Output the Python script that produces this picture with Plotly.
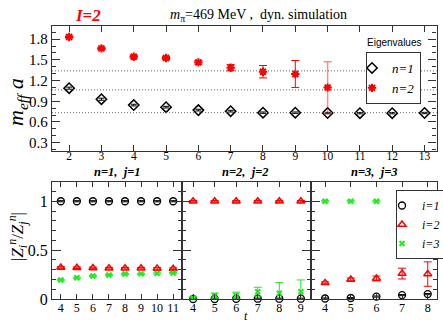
import plotly.graph_objects as go

# effective masses (top panel)
t_eig = [2, 3, 4, 5, 6, 7, 8, 9, 10, 11, 12, 13]
m_n1 = [1.09, 0.93, 0.845, 0.815, 0.772, 0.757, 0.735, 0.735, 0.73, 0.728, 0.728, 0.73]
m_n1_err = [0.015, 0.015, 0.012, 0.012, 0.012, 0.012, 0.01, 0.01, 0.01, 0.01, 0.01, 0.01]
t_n2 = [2, 3, 4, 5, 6, 7, 8, 9, 10]
m_n2 = [1.83, 1.666, 1.545, 1.526, 1.464, 1.386, 1.328, 1.295, 1.098]
m_n2_err = [0.015, 0.015, 0.02, 0.02, 0.025, 0.045, 0.09, 0.195, 0.375]
levels = [1.34, 1.065, 0.735]

# overlap ratios |Z_i^n / Z_j^n| (bottom panels)
p1_t = [4, 5, 6, 7, 8, 9, 10, 11]
p1_i1 = [1, 1, 1, 1, 1, 1, 1, 1]
p1_i2 = [0.323, 0.32, 0.318, 0.315, 0.315, 0.315, 0.313, 0.31]
p1_i3 = [0.194, 0.217, 0.235, 0.245, 0.255, 0.257, 0.262, 0.265]

p2_t = [4, 5, 6, 7, 8, 9]
p2_i1 = [0.0, 0.0, 0.002, 0.003, 0.003, 0.003]
p2_i2 = [1, 1, 1, 1, 1, 1]
p2_i3 = [0.01, 0.035, 0.035, 0.075, 0.058, 0.075]
p2_i3_err = [0.01, 0.025, 0.035, 0.045, 0.11, 0.12]

p3_t = [4, 5, 6, 7, 8]
p3_i1 = [0.005, 0.01, 0.025, 0.04, 0.05]
p3_i2 = [0.165, 0.2, 0.21, 0.26, 0.255]
p3_i2_err = [0.01, 0.015, 0.025, 0.055, 0.125]
p3_i3_t = [4, 5, 6]
p3_i3 = [1, 1, 1]

W, H = 443, 322
SERIF = 'Liberation Serif'
RED = '#ff0000'
GREEN = '#22e822'


def px(x0, x1):
    return [x0 / W, x1 / W]


def py(y_top, y_bot):
    return [(H - y_bot) / H, (H - y_top) / H]


fig = go.Figure()

# top panel
fig.add_trace(go.Scatter(
    x=t_eig, y=m_n1, mode='markers', name='<i>n=1</i>', legend='legend',
    marker=dict(symbol='diamond-open', size=8, color='black', line=dict(width=1.5)),
    error_y=dict(type='data', array=m_n1_err, color='black', thickness=1, width=3),
    xaxis='x', yaxis='y',
))
fig.add_trace(go.Scatter(
    x=t_n2[:-1], y=m_n2[:-1], mode='markers', name='<i>n=2</i>', legend='legend',
    marker=dict(symbol='asterisk-open', size=7, color=RED, line=dict(width=2, color=RED)),
    error_y=dict(type='data', array=m_n2_err[:-1], color=RED, thickness=1, width=4),
    xaxis='x', yaxis='y',
))
fig.add_trace(go.Scatter(
    x=t_n2[-1:], y=m_n2[-1:], mode='markers', showlegend=False,
    marker=dict(symbol='asterisk-open', size=7, color=RED, line=dict(width=2, color=RED)),
    error_y=dict(type='data', array=m_n2_err[-1:], color='rgba(255,0,0,0.45)', thickness=1.5, width=4),
    xaxis='x', yaxis='y',
))

circle = dict(symbol='circle-open', size=7, color='black', line=dict(width=1.3))
tri = dict(symbol='triangle-up-open', size=7, color=RED, line=dict(width=1.5))
cross = dict(symbol='x-thin-open', size=5, color=GREEN, line=dict(width=2, color=GREEN))

panels = [
    ('x2', 'y2', p1_t, p1_i1, p1_t, p1_i2, None, p1_t, p1_i3, None),
    ('x3', 'y3', p2_t, p2_i1, p2_t, p2_i2, None, p2_t, p2_i3, p2_i3_err),
    ('x4', 'y4', p3_t, p3_i1, p3_t, p3_i2, p3_i2_err, p3_i3_t, p3_i3, None),
]
for k, (xa, ya, t1, v1, t2, v2, e2, t3, v3, e3) in enumerate(panels):
    show = k == 2
    fig.add_trace(go.Scatter(
        x=t1, y=v1, mode='markers', name='<i>i=1</i>', legend='legend2', showlegend=show,
        marker=circle, cliponaxis=False,
        error_y=dict(type='data', array=[0.006] * len(t1), color='black', thickness=1, width=3),
        xaxis=xa, yaxis=ya,
    ))
    fig.add_trace(go.Scatter(
        x=t2, y=v2, mode='markers', name='<i>i=2</i>', legend='legend2', showlegend=show,
        marker=tri,
        error_y=dict(type='data', array=e2 if e2 else [0.008] * len(t2), color=RED, thickness=1, width=4),
        xaxis=xa, yaxis=ya,
    ))
    fig.add_trace(go.Scatter(
        x=t3, y=v3, mode='markers', name='<i>i=3</i>', legend='legend2', showlegend=show,
        marker=cross,
        error_y=dict(type='data', array=e3 if e3 else [0.006] * len(t3), color=GREEN, thickness=1, width=4),
        xaxis=xa, yaxis=ya,
    ))

for lv in levels:
    fig.add_shape(type='line', xref='x domain', yref='y', x0=0, x1=1, y0=lv, y1=lv,
                  line=dict(color='#666', width=1, dash='1px,2px'))

axis_style = dict(
    showline=True, linecolor='#333', linewidth=1.3, mirror='ticks', ticks='inside',
    tickcolor='#333', showgrid=False, zeroline=False, automargin=False,
    tickfont=dict(family=SERIF, size=12, color='black'),
)
minor_y = dict(dtick=0.1, ticks='inside', ticklen=4, tickcolor='#333')

fig.update_layout(
    width=W, height=H, margin=dict(l=0, r=0, t=0, b=0, autoexpand=False),
    plot_bgcolor='white', paper_bgcolor='white',
    xaxis=dict(axis_style, domain=px(52, 436.5), range=[1.47, 13.37], tickvals=t_eig, ticklen=6,
               anchor='y', ticklabelstandoff=-6, tickfont=dict(family=SERIF, size=11.5, color='black')),
    yaxis=dict(axis_style, domain=py(26, 151), range=[0.18, 1.99], tickvals=[0.3, 0.6, 0.9, 1.2, 1.5, 1.8],
               ticktext=['0.3', '0.6', '0.9', '1.2', '1.5', '1.8'], ticklen=8, anchor='x',
               tickfont=dict(family=SERIF, size=15, color='black'), minor=minor_y),
    xaxis2=dict(axis_style, domain=px(52, 182.3), range=[3.45, 11.57], tickvals=p1_t, ticklen=5, anchor='y2',
                ticklabelstandoff=-3),
    xaxis3=dict(axis_style, domain=px(182.3, 311), range=[3.5, 9.47], tickvals=p2_t, ticklen=5, anchor='y3',
                ticklabelstandoff=-3),
    xaxis4=dict(axis_style, domain=px(311, 436.7), range=[3.45, 8.35], tickvals=p3_t, ticklen=5, anchor='y4',
                ticklabelstandoff=-3),
    yaxis2=dict(axis_style, domain=py(181.7, 299), range=[0, 1.2], tickvals=[0, 0.5, 1], ticktext=['0', '0.5', '1'],
                ticklen=9, anchor='x2', tickfont=dict(family=SERIF, size=16, color='black'), minor=minor_y),
    yaxis3=dict(axis_style, domain=py(181.7, 299), range=[0, 1.2], tickvals=[0, 0.5, 1], showticklabels=False,
                ticklen=9, anchor='x3', minor=minor_y),
    yaxis4=dict(axis_style, domain=py(181.7, 299), range=[0, 1.2], tickvals=[0, 0.5, 1], showticklabels=False,
                ticklen=9, anchor='x4', minor=minor_y),
    legend=dict(x=366 / W, y=(H - 52) / H, xanchor='left', yanchor='top', bordercolor='#333', borderwidth=1,
                bgcolor='white', font=dict(family=SERIF, size=13, color='black'),
                itemwidth=30, indentation=-15, tracegroupgap=0),
    legend2=dict(x=396 / W, y=(H - 190) / H, xanchor='left', yanchor='top', bordercolor='#333', borderwidth=1,
                 bgcolor='white', font=dict(family=SERIF, size=12, color='black'),
                 itemwidth=30, indentation=-15, tracegroupgap=0),
    showlegend=True,
)

annotations = [
    dict(x=88 / W, y=(H - 15) / H, text='<b><i>I=2</i></b>', font=dict(family=SERIF, size=17, color=RED)),
    dict(x=258 / W, y=(H - 15) / H, text='<i>m</i><sub>π</sub>=469 MeV ,  dyn. simulation',
         font=dict(family=SERIF, size=14, color='black')),
    dict(x=394 / W, y=(H - 43) / H, text='Eigenvalues', font=dict(family='Liberation Sans', size=10, color='black')),
    dict(x=17 / W, y=(H - 102) / H, text='<i>m</i><sub><i>eff</i></sub> <i>a</i>', textangle=-90,
         font=dict(family=SERIF, size=22, color='black')),
    dict(x=17 / W, y=(H - 237) / H,
         text='|<i>Z</i><sub><i>i</i></sub><sup><i>n</i></sup>/<i>Z</i><sub><i>j</i></sub><sup><i>n</i></sup>|',
         textangle=-90, font=dict(family=SERIF, size=17, color='black')),
    dict(x=117 / W, y=(H - 172) / H, text='<b><i>n=1,  j=1</i></b>', font=dict(family=SERIF, size=12.5, color='black')),
    dict(x=246 / W, y=(H - 172) / H, text='<b><i>n=2,  j=2</i></b>', font=dict(family=SERIF, size=12.5, color='black')),
    dict(x=374 / W, y=(H - 172) / H, text='<b><i>n=3,  j=3</i></b>', font=dict(family=SERIF, size=12.5, color='black')),
    dict(x=246 / W, y=(H - 316) / H, text='<i>t</i>', font=dict(family=SERIF, size=12, color='black')),
]
for a in annotations:
    fig.add_annotation(dict(a, xref='paper', yref='paper', showarrow=False, xanchor='center', yanchor='middle'))

fig.write_html("out.html", config={'displayModeBar': False},
               post_script="document.body.style.margin='0';")
